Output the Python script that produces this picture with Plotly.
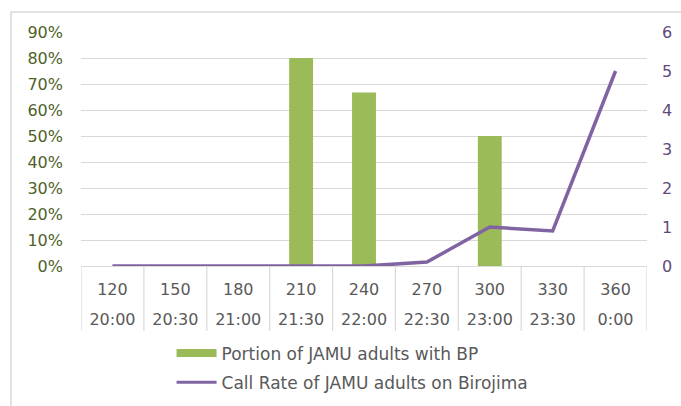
import plotly.graph_objects as go

# Minutes after 18:00 and matching clock time
minutes = ["120", "150", "180", "210", "240", "270", "300", "330", "360"]
clock = ["20:00", "20:30", "21:00", "21:30", "22:00", "22:30", "23:00", "23:30", "0:00"]

# Share of JAMU adults carrying BP (fraction) and call rate on Birojima
bp_portion = [0, 0, 0, 0.80, 0.667, 0, 0.50, 0, 0]
call_rate = [0, 0, 0, 0, 0, 0.1, 1.0, 0.9, 5.0]

bar_name = "Portion of JAMU adults with BP"
line_name = "Call Rate of JAMU adults on Birojima"

GREEN = "#9BBB59"
PURPLE = "#8064A2"
GRID = "#D9D9D9"
FONT = "DejaVu Sans, Arial, sans-serif"
FS = 16
LEG_FS = 17

idx = list(range(len(minutes)))

fig = go.Figure()

fig.add_trace(go.Bar(
    x=idx, y=bp_portion, marker=dict(color=GREEN, line=dict(width=0)),
    width=0.38, showlegend=False, hoverinfo="y", name=bar_name,
))
fig.add_trace(go.Scatter(
    x=idx, y=call_rate, mode="lines", yaxis="y2",
    line=dict(color=PURPLE, width=3.5), name=line_name, showlegend=False,
))
# Invisible carrier so the clock-time axis renders its labels
fig.add_trace(go.Scatter(
    x=idx, y=[None] * len(idx), xaxis="x2", mode="lines",
    showlegend=False, hoverinfo="skip",
))
# Legend entries (wide swatches)
fig.add_trace(go.Scatter(
    x=[None], y=[None], mode="lines", line=dict(color=GREEN, width=8),
    name=bar_name, legendgroup="bp",
))
fig.add_trace(go.Scatter(
    x=[None], y=[None], mode="lines", line=dict(color=PURPLE, width=3),
    name=line_name, legendgroup="call",
))

# Category separators of the two-row axis table
shapes = []
for i in range(len(minutes) + 1):
    shapes.append(dict(
        type="line", xref="x", yref="paper", x0=i - 0.5, x1=i - 0.5,
        y0=0, y1=-0.278, line=dict(color=GRID, width=1.2), layer="below",
    ))
# Chart frame
shapes.append(dict(
    type="rect", xref="paper", yref="paper",
    x0=-70 / 566, x1=(681 - 81 + 4) / 566, y0=-0.75, y1=20 / 234 + 1,
    line=dict(color=GRID, width=1.5), layer="below",
))

fig.update_layout(
    width=681, height=406,
    margin=dict(l=81, r=34, t=32, b=140, autoexpand=False),
    paper_bgcolor="white", plot_bgcolor="white",
    font=dict(family=FONT, size=FS, color="#595959"),
    shapes=shapes,
    xaxis=dict(
        tickmode="array", tickvals=idx, ticktext=minutes,
        range=[-0.5, len(minutes) - 0.5], showgrid=False, zeroline=False,
        showline=True, linecolor=GRID, linewidth=1.2, ticks="",
        ticklabelstandoff=9, tickfont=dict(size=FS, color="#595959"),
        automargin=False,
    ),
    # Second row of category labels (clock time)
    xaxis2=dict(
        tickmode="array", tickvals=idx, ticktext=clock, matches="x",
        overlaying="x", side="bottom", anchor="y",
        showgrid=False, zeroline=False, showline=False, ticks="",
        ticklabelstandoff=42, tickfont=dict(size=FS, color="#595959"),
        automargin=False,
    ),
    yaxis=dict(
        range=[0, 0.9], dtick=0.1, tickformat=".0%", showgrid=True,
        gridcolor=GRID, gridwidth=1.2, zeroline=False, showline=False,
        ticks="", ticklabelstandoff=17, automargin=False,
        tickfont=dict(size=FS, color="#4F6228"),
    ),
    yaxis2=dict(
        range=[0, 6], dtick=1, overlaying="y", side="right", showgrid=False,
        zeroline=False, showline=False, ticks="", ticklabelstandoff=14,
        automargin=False, tickfont=dict(size=FS, color="#5F497A"),
    ),
    legend=dict(
        orientation="v", x=0.16, xanchor="left", y=-0.297, yanchor="top",
        font=dict(size=LEG_FS, color="#595959"), itemwidth=40,
        tracegroupgap=4, bgcolor="rgba(0,0,0,0)",
    ),
)

fig.write_html("out.html")
